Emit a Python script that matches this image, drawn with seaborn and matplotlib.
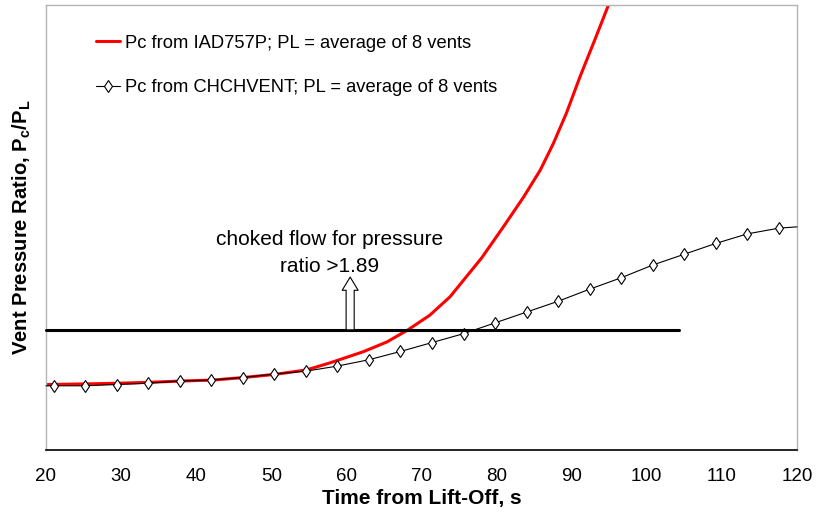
import matplotlib
matplotlib.use("Agg")
import matplotlib.pyplot as plt
import seaborn as sns
import numpy as np
import pandas as pd

# ---- data ----
iad_time = [20.0, 25.4, 29.6, 33.8, 38.0, 42.2, 46.3, 50.5, 54.7, 57.8, 62.25,
            65.4, 68.2, 71.1, 73.8, 76.0, 78.0, 80.9, 83.6, 85.8, 87.55,
            89.3, 91.1, 92.9, 95.0]
iad_ratio = [1.03, 1.04, 1.05, 1.065, 1.085, 1.10, 1.14, 1.19, 1.26, 1.37, 1.546,
             1.70, 1.89, 2.12, 2.41, 2.73, 3.02, 3.51, 3.98, 4.40, 4.82,
             5.30, 5.87, 6.40, 7.03]

chch_time = [20.0, 21.0, 25.2, 29.4, 33.6, 37.8, 42.0, 46.2, 50.4, 54.6, 58.8,
             63.0, 67.2, 71.4, 75.6, 79.8, 84.0, 88.2, 92.4, 96.6, 100.8,
             105.0, 109.2, 113.4, 117.6, 120.0]
chch_ratio = [1.01, 1.01, 1.01, 1.03, 1.05, 1.085, 1.10, 1.14, 1.195, 1.24, 1.32,
              1.42, 1.55, 1.69, 1.83, 2.00, 2.17, 2.34, 2.53, 2.71, 2.91,
              3.08, 3.25, 3.40, 3.49, 3.51]

choke_ratio = 1.89
choke_x = [20.0, 104.3]
arrow_x = 60.5
arrow_top = 2.72

xticks = [20, 30, 40, 50, 60, 70, 80, 90, 100, 110, 120]

label_iad = "Pc from IAD757P; PL = average of 8 vents"
label_chch = "Pc from CHCHVENT; PL = average of 8 vents"

# ---- style ----
sns.set_theme(style="white")
plt.rcParams['font.family'] = ['Liberation Sans', 'DejaVu Sans']
plt.rcParams['mathtext.fontset'] = 'custom'
plt.rcParams['mathtext.rm'] = 'Liberation Sans'
plt.rcParams['mathtext.bf'] = 'Liberation Sans:bold'
plt.rcParams['text.color'] = 'black'
plt.rcParams['axes.labelcolor'] = 'black'
plt.rcParams['xtick.color'] = 'black'
plt.rcParams['ytick.color'] = 'black'

fig = plt.figure(figsize=(8.2, 5.14), dpi=100)
ax = fig.add_axes([46/820, 1-450/514, 751/820, 445/514])

df_iad = pd.DataFrame({"t": iad_time, "r": iad_ratio})
df_chch = pd.DataFrame({"t": chch_time, "r": chch_ratio})

sns.lineplot(data=df_chch, x="t", y="r", ax=ax, color="black", lw=0.8,
             marker="d", markersize=6.5, markerfacecolor="white",
             markeredgecolor="black", markeredgewidth=0.8,
             markevery=list(range(1, len(chch_time) - 1)),
             label=label_chch, zorder=3, clip_on=False)
sns.lineplot(data=df_iad, x="t", y="r", ax=ax, color="#ff0000", lw=2.2,
             label=label_iad, zorder=2, solid_joinstyle="round")

# choked flow threshold line
ax.plot(choke_x, [choke_ratio, choke_ratio], color="black", lw=2.2,
        zorder=4, clip_on=False, label="_nolegend_")

# hollow arrow
ax.annotate("", xy=(arrow_x, arrow_top), xytext=(arrow_x, choke_ratio),
            arrowprops=dict(arrowstyle="simple,head_length=0.95,head_width=1.15,tail_width=0.58",
                            mutation_scale=10, fc="white", ec="black", lw=0.8,
                            shrinkA=0, shrinkB=0), zorder=5)

ax.text(57.7, 3.10, "choked flow for pressure\nratio >1.89", ha="center",
        va="center", fontsize=15, linespacing=1.5, color="black")

ax.set_xlim(20, 120)
ax.set_ylim(0, 7)
ax.set_xticks(xticks)
ax.set_xticklabels([str(v) for v in xticks], fontsize=13.5)
ax.set_yticks([])
ax.tick_params(axis="x", length=0, pad=13)

ax.set_xlabel("Time from Lift-Off, s", fontsize=15, fontweight="bold", labelpad=3)
ax.set_ylabel(r"Vent Pressure Ratio, P$_\mathbf{c}$/P$_\mathbf{L}$", fontsize=14.6,
              fontweight="bold", labelpad=9)

for side in ["left", "top", "right"]:
    ax.spines[side].set_color("#b4b4b4")
    ax.spines[side].set_linewidth(1.0)
ax.spines["bottom"].set_color("black")
ax.spines["bottom"].set_linewidth(1.2)

handles, labels = ax.get_legend_handles_labels()
order = [labels.index(label_iad), labels.index(label_chch)]
ax.legend([handles[i] for i in order], [labels[i] for i in order],
          loc="upper left", bbox_to_anchor=(0.066, 0.933), frameon=False,
          fontsize=13.2, labelspacing=1.5, handlelength=1.36,
          handletextpad=0.22, borderpad=0, borderaxespad=0)

fig.savefig("out.png", dpi=100)
